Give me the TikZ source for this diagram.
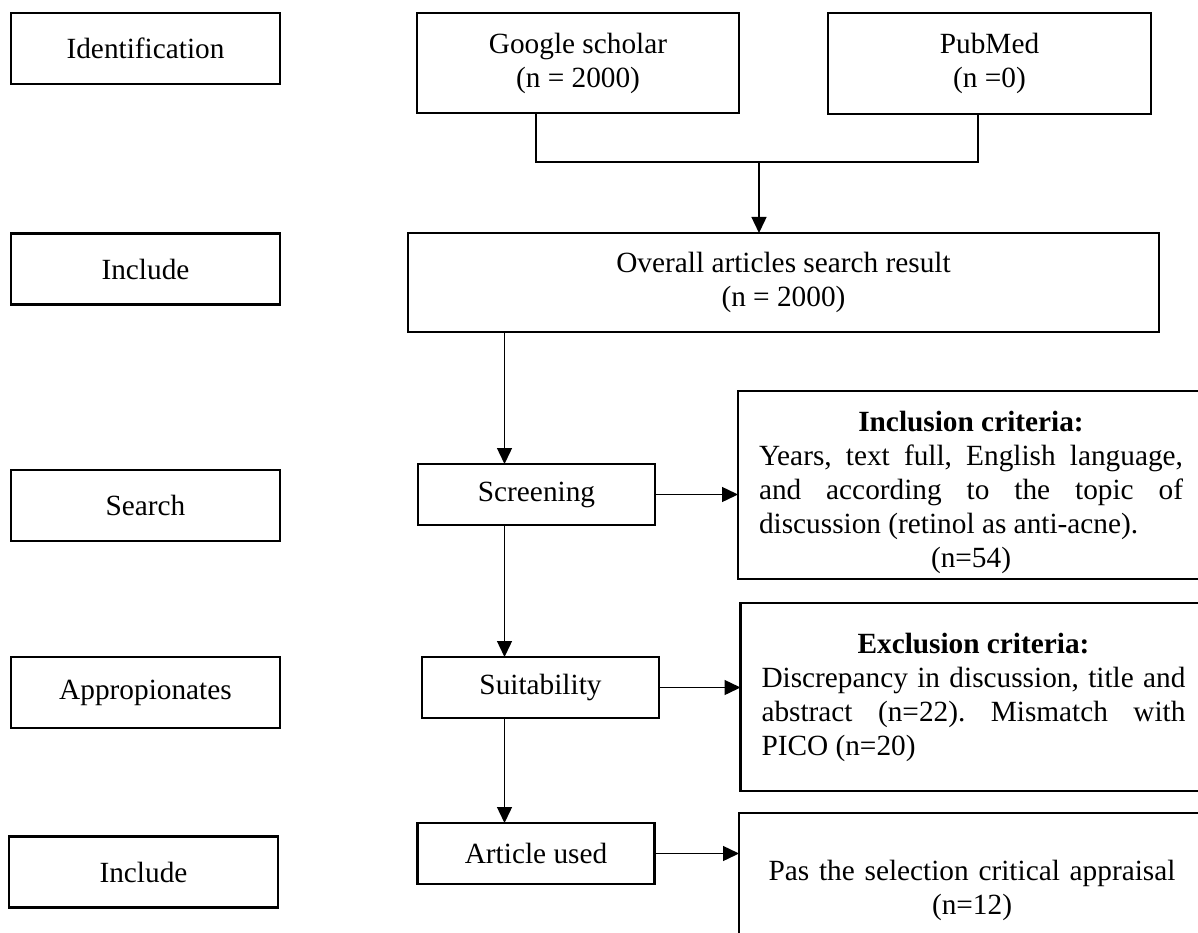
\documentclass[tikz,border=0pt]{standalone}
\usepackage{fontspec}
\setmainfont{Liberation Serif}
\usetikzlibrary{arrows.meta}
\setlength{\parindent}{0pt}
\frenchspacing
\begin{document}
\begin{tikzpicture}[x=1pt,y=-1pt,
  every node/.style={font=\fontsize{29.3}{34}\selectfont, inner sep=0pt, outer sep=0pt},
  box/.style={draw, line width=2.6pt, align=center},
  lab/.style={box, minimum width=269pt, minimum height=71pt},
  mid/.style={box, minimum width=237pt, minimum height=61pt},
  crit/.style={draw, line width=2.6pt, text width=424pt, inner xsep=21pt, align=justify, minimum height=188pt},
  conn/.style={line width=1.4pt},
  arr/.style={conn, -{Triangle[length=16pt,width=15pt]}}]
\clip (0,0) rectangle (1198,933);
\fill[white] (0,0) rectangle (1198,933);

% left column labels
\node[lab] (id) at (145.5,48.5) {Identification};
\node[lab] (inc1) at (145.5,269) {Include};
\node[lab] (srch) at (145.5,505.5) {Search};
\node[lab] (appr) at (145.5,692.5) {Appropionates};
\node[lab] (inc2) at (143.5,872) {Include};

% sources
\node[box, minimum width=322pt, minimum height=100pt] (gs) at (578,63) {Google scholar\\(n = 2000)};
\node[box, minimum width=323pt, minimum height=101pt] (pm) at (989.5,63.5) {PubMed\\(n =0)};
\node[box, minimum width=751pt, minimum height=99pt] (ov) at (783.5,282.5) {Overall articles search result\\(n = 2000)};

% middle column
\node[mid] (scr) at (536.5,494.5) {Screening};
\node[mid] (suit) at (540.5,687.5) {Suitability};
\node[mid] (art) at (536,853.5) {Article used};

% right column
\node[crit] (incl) at (971,485) {\makebox[424pt]{\rule{0pt}{36pt}\bfseries Inclusion criteria:}\par
Years, text full, English language,\linebreak and according to the topic of\linebreak discussion (retinol as anti-acne).\par
\makebox[424pt]{(n=54)}};
\node[crit] (excl) at (973.5,697) {\makebox[424pt]{\bfseries Exclusion criteria:}\par
Discrepancy in discussion, title and\linebreak abstract (n=22). Mismatch with\linebreak PICO (n=20)\par};
\node[draw, line width=2.6pt, text width=424pt, inner xsep=21pt, align=center, minimum height=154pt] (pas) at (972,890) {Pas the selection critical appraisal\\(n=12)};

% connectors
\coordinate (gsx) at ([xshift=-42pt]gs.south);
\coordinate (pmx) at ([xshift=-11.5pt]pm.south);
\coordinate (jn) at (759,162);
\draw[conn] (gsx) |- (jn) -| (pmx);
\draw[arr] (jn) -- (ov.north -| jn);

\coordinate (vx) at (504.5,0);
\draw[arr] (ov.south -| vx) -- (scr.north -| vx);
\draw[arr] (scr.south -| vx) -- (suit.north -| vx);
\draw[arr] (suit.south -| vx) -- (art.north -| vx);
\draw[arr] (scr.east) -- (incl.west |- scr.east);
\draw[arr] (suit.east) -- (excl.west |- suit.east);
\draw[arr] (art.east) -- (pas.west |- art.east);
\end{tikzpicture}
\end{document}
